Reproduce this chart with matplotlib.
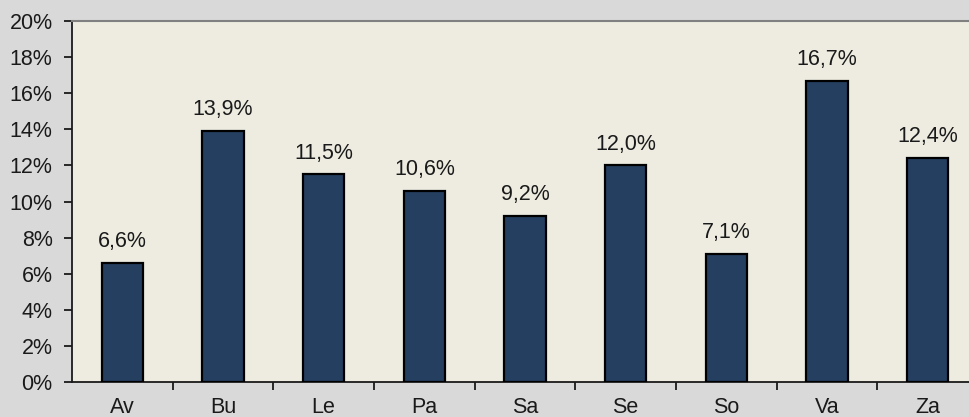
import matplotlib
matplotlib.use("Agg")
import matplotlib.pyplot as plt
from matplotlib.ticker import FixedLocator

# data
categories = ['Av', 'Bu', 'Le', 'Pa', 'Sa', 'Se', 'So', 'Va', 'Za']
values = [6.6, 13.9, 11.5, 10.6, 9.2, 12.0, 7.1, 16.7, 12.4]
y_ticks = [0, 2, 4, 6, 8, 10, 12, 14, 16, 18, 20]

plt.rcParams['font.family'] = ['Liberation Sans', 'DejaVu Sans']

fig = plt.figure(figsize=(9.69, 4.17), dpi=100, facecolor='#d9d9d9')
ax = fig.add_axes([72 / 969, 1 - 382 / 417, 906 / 969, 361 / 417])
ax.set_facecolor('#eeece1')

x = range(len(categories))
bars = ax.bar(x, values, width=0.41, color='#243f60', edgecolor='black', linewidth=1.6, zorder=3)

for bar, v in zip(bars, values):
    label = '{:.1f}%'.format(v).replace('.', ',')
    ax.text(bar.get_x() + bar.get_width() / 2, v + 0.6, label,
            ha='center', va='bottom', fontsize=15.5, color='#1a1a1a')

ax.set_xlim(-0.5, len(categories) - 0.5)
ax.set_ylim(0, 20)
ax.set_yticks(y_ticks)
ax.set_yticklabels(['{}%'.format(t) for t in y_ticks])
ax.set_xticks(list(x))
ax.set_xticklabels(categories)
ax.xaxis.set_minor_locator(FixedLocator([i + 0.5 for i in range(len(categories))]))

ax.tick_params(axis='y', direction='out', length=6, width=1.3, labelsize=15.5,
               colors='#1a1a1a', pad=8)
ax.tick_params(axis='x', which='major', length=0, labelsize=15.5, colors='#1a1a1a', pad=11)
ax.tick_params(axis='x', which='minor', direction='out', length=6, width=1.3, color='#1a1a1a')

ax.spines['left'].set_color('#1a1a1a')
ax.spines['left'].set_linewidth(1.3)
ax.spines['bottom'].set_color('#1a1a1a')
ax.spines['bottom'].set_linewidth(1.3)
ax.spines['top'].set_color('#808080')
ax.spines['top'].set_linewidth(1.5)
ax.spines['right'].set_visible(False)

fig.savefig('out.png', dpi=100, facecolor=fig.get_facecolor())
